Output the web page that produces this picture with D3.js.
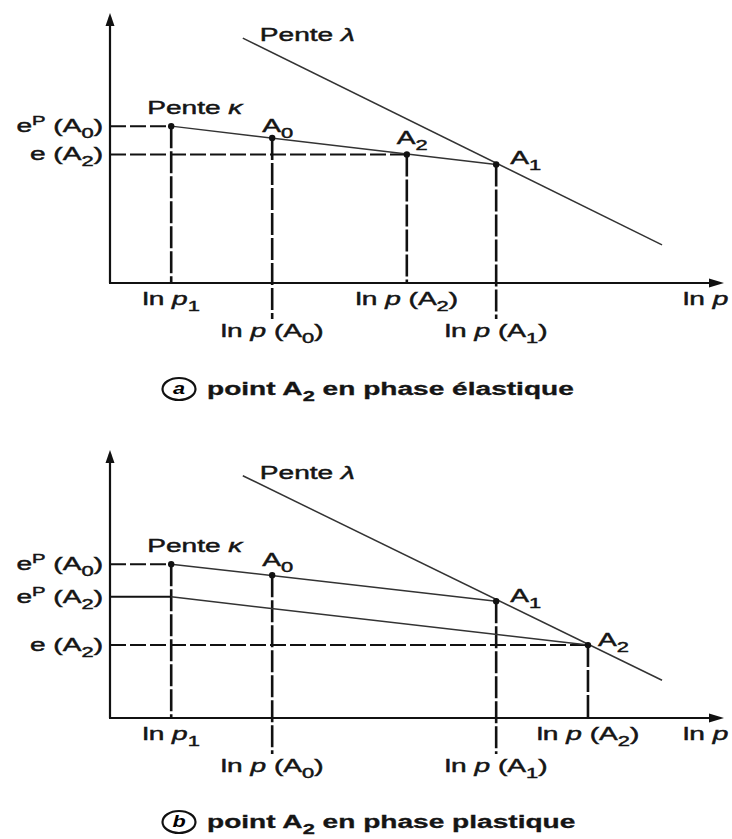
<!DOCTYPE html>
<html>
<head>
<meta charset="utf-8">
<script src="https://cdn.jsdelivr.net/npm/d3@7"></script>
<style>
  body { margin: 0; background: #fff; }
  svg { display: block; }
</style>
</head>
<body>
<svg id="chart" width="732" height="839"></svg>
<script>
// ---------- panel (a): A2 stays on the swelling line (elastic) ----------
const a_names   = ["p1", "A0", "A2", "A1"];
const a_lnp     = [1.00, 2.65, 4.85, 6.31];
const a_e       = [5.81, 5.37, 4.76, 4.39];
const a_lambdaLnp = [2.17, 9.02];
const a_lambdaE   = [9.07, 1.41];
const a_kappa     = [["p1", "A1"]];
const a_eLevels   = [["p1", "eP(A0)"], ["A2", "e(A2)"]];
const a_lnpLevels = [["p1", 0], ["A0", 1], ["A2", 0], ["A1", 1]];

// ---------- panel (b): A2 on the normal consolidation line (plastic) ----------
const b_names   = ["p1", "p1b", "A0", "A1", "A2"];
const b_lnp     = [1.00, 1.00, 2.65, 6.31, 7.81];
const b_e       = [5.74, 4.52, 5.33, 4.36, 2.72];
const b_lambdaLnp = [2.17, 9.02];
const b_lambdaE   = [9.04, 1.41];
const b_kappa     = [["p1", "A1"], ["p1b", "A2"]];
const b_eLevels   = [["p1", "eP(A0)"], ["p1b", "eP(A2)"], ["A2", "e(A2)"]];
const b_lnpLevels = [["p1", 0], ["A0", 1], ["A1", 1], ["A2", 0]];

// label texts: [string, kind] with kind "", "i" (italic), "sub", "sup"
const eLabels = {
  "eP(A0)": [["e", ""], ["P", "sup"], [" (A", ""], ["0", "sub"], [")", ""]],
  "eP(A2)": [["e", ""], ["P", "sup"], [" (A", ""], ["2", "sub"], [")", ""]],
  "e(A2)":  [["e", ""], [" (A", ""], ["2", "sub"], [")", ""]]
};
const lnpLabels = {
  p1: [["ln ", ""], ["p", "i"], ["1", "sub"]],
  A0: [["ln ", ""], ["p", "i"], [" (A", ""], ["0", "sub"], [")", ""]],
  A1: [["ln ", ""], ["p", "i"], [" (A", ""], ["1", "sub"], [")", ""]],
  A2: [["ln ", ""], ["p", "i"], [" (A", ""], ["2", "sub"], [")", ""]]
};
const axisTitle = [["ln ", ""], ["p", "i"]];
const captions = [
  ["a", [["point A", ""], ["2", "sub"], [" en phase élastique", ""]]],
  ["b", [["point A", ""], ["2", "sub"], [" en phase plastique", ""]]]
];

// ---------- drawing ----------
const svg = d3.select("#chart");
const FONT = "'Liberation Sans', Arial, Helvetica, sans-serif";
const SX = 1.56;     // lettering is set wide
const FS = 18;

const x = d3.scaleLinear().domain([0, 10]).range([110, 722]);

function rich(parent, px, py, parts, opt = {}) {
  const size = opt.size || FS;
  const g = parent.append("g").attr("transform", `translate(${px},${py}) scale(${SX},1)`);
  const t = g.append("text")
    .attr("font-family", FONT)
    .attr("font-size", size)
    .attr("font-weight", opt.weight || "normal")
    .attr("text-anchor", opt.anchor || "start")
    .attr("fill", "#151515")
    .attr("stroke", "#151515")
    .attr("stroke-width", opt.weight ? 0.3 : 0.45);
  let shift = 0;
  parts.forEach(([s, k]) => {
    const ts = t.append("tspan").text(s);
    let target = 0;
    if (k === "sub") { target = size * 0.32; ts.attr("font-size", size * 0.78); }
    if (k === "sup") { target = -size * 0.38; ts.attr("font-size", size * 0.72); }
    if (k === "i") ts.attr("font-style", "italic");
    if (target !== shift) { ts.attr("dy", target - shift); shift = target; }
  });
  return g;
}

function panel(cfg) {
  const y = d3.scaleLinear().domain([0, 10]).range([cfg.bottom, cfg.top]);
  const g = svg.append("g");
  const pt = {};
  cfg.names.forEach((n, i) => pt[n] = { x: x(cfg.lnp[i]), y: y(cfg.e[i]) });
  const x0 = x(0), y0 = y(0);

  // reference levels on the void-ratio axis
  cfg.eLevels.forEach(([n, key]) => {
    g.append("line")
      .attr("x1", x0).attr("x2", pt[n].x)
      .attr("y1", pt[n].y).attr("y2", pt[n].y)
      .attr("stroke", "#111").attr("stroke-width", 2)
      .attr("stroke-dasharray", key === "eP(A2)" ? null : "16,4");
    rich(g, x0 - 7, pt[n].y + 6, eLabels[key], { anchor: "end" });
  });

  // reference abscissae
  cfg.lnpLevels.forEach(([n, row]) => {
    g.append("line")
      .attr("x1", pt[n].x).attr("x2", pt[n].x)
      .attr("y1", pt[n].y).attr("y2", row ? y0 + 36 : y0)
      .attr("stroke", "#111").attr("stroke-width", 2.6)
      .attr("stroke-dasharray", "22,3");
    rich(g, pt[n].x, y0 + (row ? 54 : 22), lnpLabels[n], { anchor: "middle" });
  });

  // normal consolidation line (slope lambda)
  const line = d3.line().x(d => x(d[0])).y(d => y(d[1]));
  g.append("path")
    .attr("d", line(d3.zip(cfg.lambdaLnp, cfg.lambdaE)))
    .attr("fill", "none").attr("stroke", "#333").attr("stroke-width", 1.5);
  rich(g, x(cfg.lambdaLnp[0]) + 17, y(cfg.lambdaE[0]) + 3, [["Pente ", ""], ["λ", "i"]]);

  // swelling lines (slope kappa)
  cfg.kappa.forEach(([a, b]) => {
    g.append("line")
      .attr("x1", pt[a].x).attr("y1", pt[a].y)
      .attr("x2", pt[b].x).attr("y2", pt[b].y)
      .attr("stroke", "#333").attr("stroke-width", 1.5);
  });
  rich(g, pt.p1.x - 24, pt.p1.y - 12, [["Pente ", ""], ["κ", "i"]]);

  // axes
  g.append("line").attr("x1", x0).attr("x2", x0).attr("y1", y0).attr("y2", cfg.top + 4)
    .attr("stroke", "#111").attr("stroke-width", 2.2);
  g.append("path")
    .attr("d", `M${x0},${cfg.top} L${x0 - 4.5},${cfg.top + 13} L${x0 + 4.5},${cfg.top + 13} Z`)
    .attr("fill", "#111");
  g.append("line").attr("x1", x0 - 1).attr("x2", x(10) - 4).attr("y1", y0).attr("y2", y0)
    .attr("stroke", "#111").attr("stroke-width", 2.2);
  g.append("path")
    .attr("d", `M${x(10) + 2},${y0} L${x(10) - 13},${y0 - 4.5} L${x(10) - 13},${y0 + 4.5} Z`)
    .attr("fill", "#111");
  rich(g, 683, y0 + 22, axisTitle);

  // state points
  cfg.dots.forEach(n => {
    g.append("circle").attr("cx", pt[n].x).attr("cy", pt[n].y).attr("r", 3.2).attr("fill", "#111");
  });
  cfg.pointLabels.forEach(([n, dx, dy, sub]) => {
    rich(g, pt[n].x + dx, pt[n].y + dy, [["A", ""], [sub, "sub"]]);
  });

  // caption
  const [letter, parts] = cfg.caption;
  const cx = 179, cy = cfg.captionY - 6;
  g.append("ellipse").attr("cx", cx).attr("cy", cy).attr("rx", 16.5).attr("ry", 11)
    .attr("fill", "none").attr("stroke", "#111").attr("stroke-width", 2.2);
  g.append("text").attr("x", cx).attr("y", cy + 5.5)
    .attr("text-anchor", "middle").attr("font-family", FONT)
    .attr("font-size", 16).attr("font-style", "italic").attr("font-weight", "bold")
    .attr("transform", `translate(${cx},0) scale(1.35,1) translate(${-cx},0)`)
    .text(letter);
  rich(g, 207, cfg.captionY, parts, { weight: "bold" });
}

panel({
  top: 13, bottom: 283,
  names: a_names, lnp: a_lnp, e: a_e,
  lambdaLnp: a_lambdaLnp, lambdaE: a_lambdaE,
  kappa: a_kappa, eLevels: a_eLevels, lnpLevels: a_lnpLevels,
  dots: ["p1", "A0", "A2", "A1"],
  pointLabels: [["A0", -10, -6, "0"], ["A2", -10, -10, "2"], ["A1", 14, 0, "1"]],
  caption: captions[0], captionY: 395
});

panel({
  top: 450, bottom: 718,
  names: b_names, lnp: b_lnp, e: b_e,
  lambdaLnp: b_lambdaLnp, lambdaE: b_lambdaE,
  kappa: b_kappa, eLevels: b_eLevels, lnpLevels: b_lnpLevels,
  dots: ["p1", "A0", "A1", "A2"],
  pointLabels: [["A0", -10, -9, "0"], ["A1", 14, 1, "1"], ["A2", 10, 1, "2"]],
  caption: captions[1], captionY: 828
});
</script>
</body>
</html>
